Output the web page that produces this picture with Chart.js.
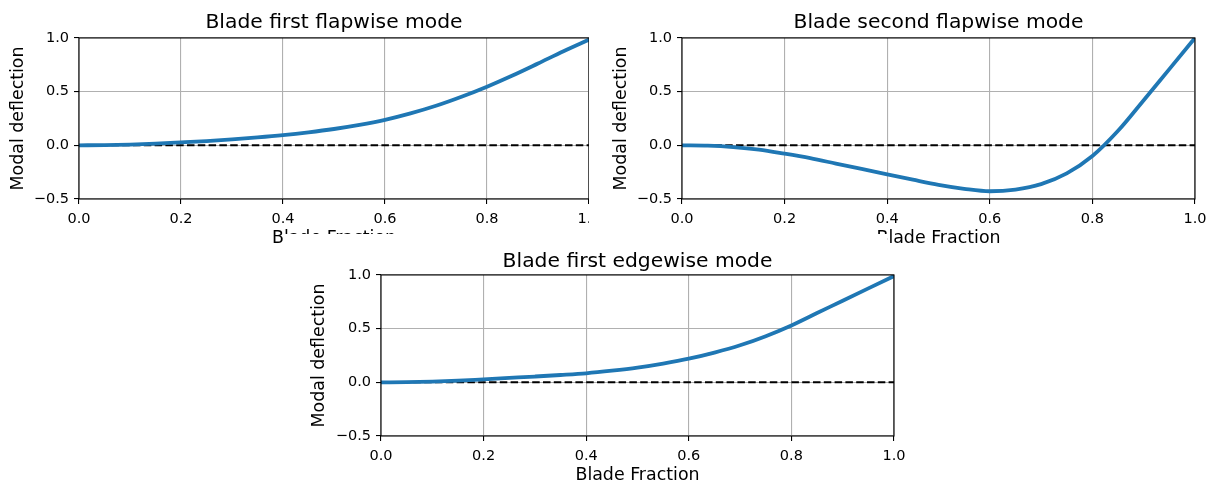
<!DOCTYPE html>
<html>
<head>
<meta charset="utf-8">
<script src="https://cdn.jsdelivr.net/npm/chart.js@4.4.1/dist/chart.umd.min.js"></script>
<style>
  html, body { margin: 0; padding: 0; background: #fff; }
  #fig { position: relative; width: 1214px; height: 485px; overflow: hidden; background: #fff; }
  #fig canvas, #fig .cover { position: absolute; }
  #c1 { left: 0; top: 0; z-index: 1; }
  #c2 { left: 589px; top: 0; z-index: 2; background: #fff; }
  /* the lower panel hides the bottom of the upper x labels, like in the source figure */
  .cover { left: 284px; top: 234px; width: 603px; height: 22px; background: #fff; z-index: 3; }
  #c3 { left: 284px; top: 234px; z-index: 4; }
</style>
</head>
<body>
<div id="fig">
  <canvas id="c1" width="609" height="261" style="width:609px;height:261px"></canvas>
  <canvas id="c2" width="625" height="261" style="width:625px;height:261px"></canvas>
  <div class="cover"></div>
  <canvas id="c3" width="630" height="255" style="width:630px;height:255px"></canvas>
</div>
<script>
// blade fraction stations
const fraction = [0, 0.05, 0.1, 0.15, 0.2, 0.25, 0.3, 0.35, 0.4, 0.45, 0.5,
                  0.55, 0.6, 0.65, 0.7, 0.75, 0.8, 0.85, 0.9, 0.95, 1.0];

const flap1 = [0, 0.002, 0.007, 0.015, 0.027, 0.040, 0.056, 0.074, 0.095, 0.121, 0.152,
               0.190, 0.237, 0.297, 0.368, 0.452, 0.546, 0.650, 0.762, 0.876, 0.984];

const flap2 = [0, -0.003, -0.016, -0.040, -0.078, -0.120, -0.170, -0.220, -0.270, -0.320, -0.368,
               -0.405, -0.428, -0.412, -0.362, -0.262, -0.100, 0.135, 0.420, 0.710, 1.0];

const edge1 = [0, 0.001, 0.006, 0.015, 0.028, 0.041, 0.054, 0.068, 0.084, 0.108, 0.137,
               0.175, 0.220, 0.277, 0.345, 0.430, 0.530, 0.645, 0.760, 0.875, 0.990];

// dashed reference line at zero
const refX = [0, 1];
const refY = [0, 0];

const xTicks = [0, 0.2, 0.4, 0.6, 0.8, 1.0];
const yTicks = [-0.5, 0, 0.5, 1.0];

Chart.defaults.font.family = "'DejaVu Sans', sans-serif";
Chart.defaults.color = "#000";

const fmt = v => (v < 0 ? "\u2212" : "") + Math.abs(v).toFixed(1);

// top and right spines (matplotlib draws the full box)
const spines = {
  id: "spines",
  afterDraw(chart) {
    const { ctx, chartArea: a } = chart;
    ctx.save();
    ctx.strokeStyle = "#000";
    ctx.lineWidth = 1.1;
    ctx.strokeRect(a.left, a.top, a.right - a.left, a.bottom - a.top);
    ctx.restore();
  }
};

function modeChart(id, title, values, g) {
  const pts = fraction.map((x, i) => ({ x, y: values[i] }));
  const ref = refX.map((x, i) => ({ x, y: refY[i] }));
  const gridOpts = { color: "#b0b0b0", lineWidth: 1.1, tickColor: "#000", tickLength: 5, tickWidth: 1.1 };
  return new Chart(document.getElementById(id), {
    type: "line",
    data: {
      datasets: [
        { data: pts, borderColor: "#1f77b4", borderWidth: 3.8, pointRadius: 0,
          cubicInterpolationMode: "monotone", fill: false },
        { data: ref, borderColor: "#000", borderWidth: 2, borderDash: [7.5, 3.3],
          pointRadius: 0, fill: false }
      ]
    },
    options: {
      responsive: false,
      animation: false,
      events: [],
      layout: { padding: { left: 0, right: g.padRight, top: 0, bottom: 0 } },
      plugins: {
        legend: { display: false },
        tooltip: { enabled: false },
        title: {
          display: true, text: title, fullSize: false, color: "#000",
          font: { size: 20.3, weight: "normal" },
          padding: { top: g.titleTop, bottom: g.titleBottom }
        }
      },
      scales: {
        x: {
          type: "linear", min: 0, max: 1,
          afterBuildTicks: s => { s.ticks = xTicks.map(v => ({ value: v })); },
          afterFit: s => { s.height = g.xH; },
          ticks: { callback: fmt, font: { size: 14.5 }, padding: 7, maxRotation: 0, color: "#000" },
          grid: gridOpts,
          border: { display: false },
          title: { display: true, text: "Blade Fraction", color: "#000",
                   font: { size: 17.4 }, padding: { top: 0, bottom: g.xTitlePad } }
        },
        y: {
          type: "linear", min: -0.5, max: 1.0,
          afterBuildTicks: s => { s.ticks = yTicks.map(v => ({ value: v })); },
          afterFit: s => { s.width = g.yW; },
          ticks: { callback: fmt, font: { size: 14.5 }, padding: 5, color: "#000" },
          grid: gridOpts,
          border: { display: false },
          title: { display: true, text: "Modal deflection", color: "#000",
                   font: { size: 17.4 }, padding: { top: g.yTitlePad, bottom: 0 } }
        }
      }
    },
    plugins: [spines]
  });
}

modeChart("c1", "Blade first flapwise mode", flap1,
  { yW: 79, xH: 62, padRight: 20, titleTop: 10.3, titleBottom: 3.3, xTitlePad: 12.5, yTitlePad: 8.5 });
modeChart("c2", "Blade second flapwise mode", flap2,
  { yW: 93, xH: 62, padRight: 19, titleTop: 10.3, titleBottom: 3.3, xTitlePad: 12.5, yTitlePad: 22.3 });
modeChart("c3", "Blade first edgewise mode", edge1,
  { yW: 97, xH: 53, padRight: 20, titleTop: 15.3, titleBottom: 1.3, xTitlePad: 2.6, yTitlePad: 25.2 });
</script>
</body>
</html>
